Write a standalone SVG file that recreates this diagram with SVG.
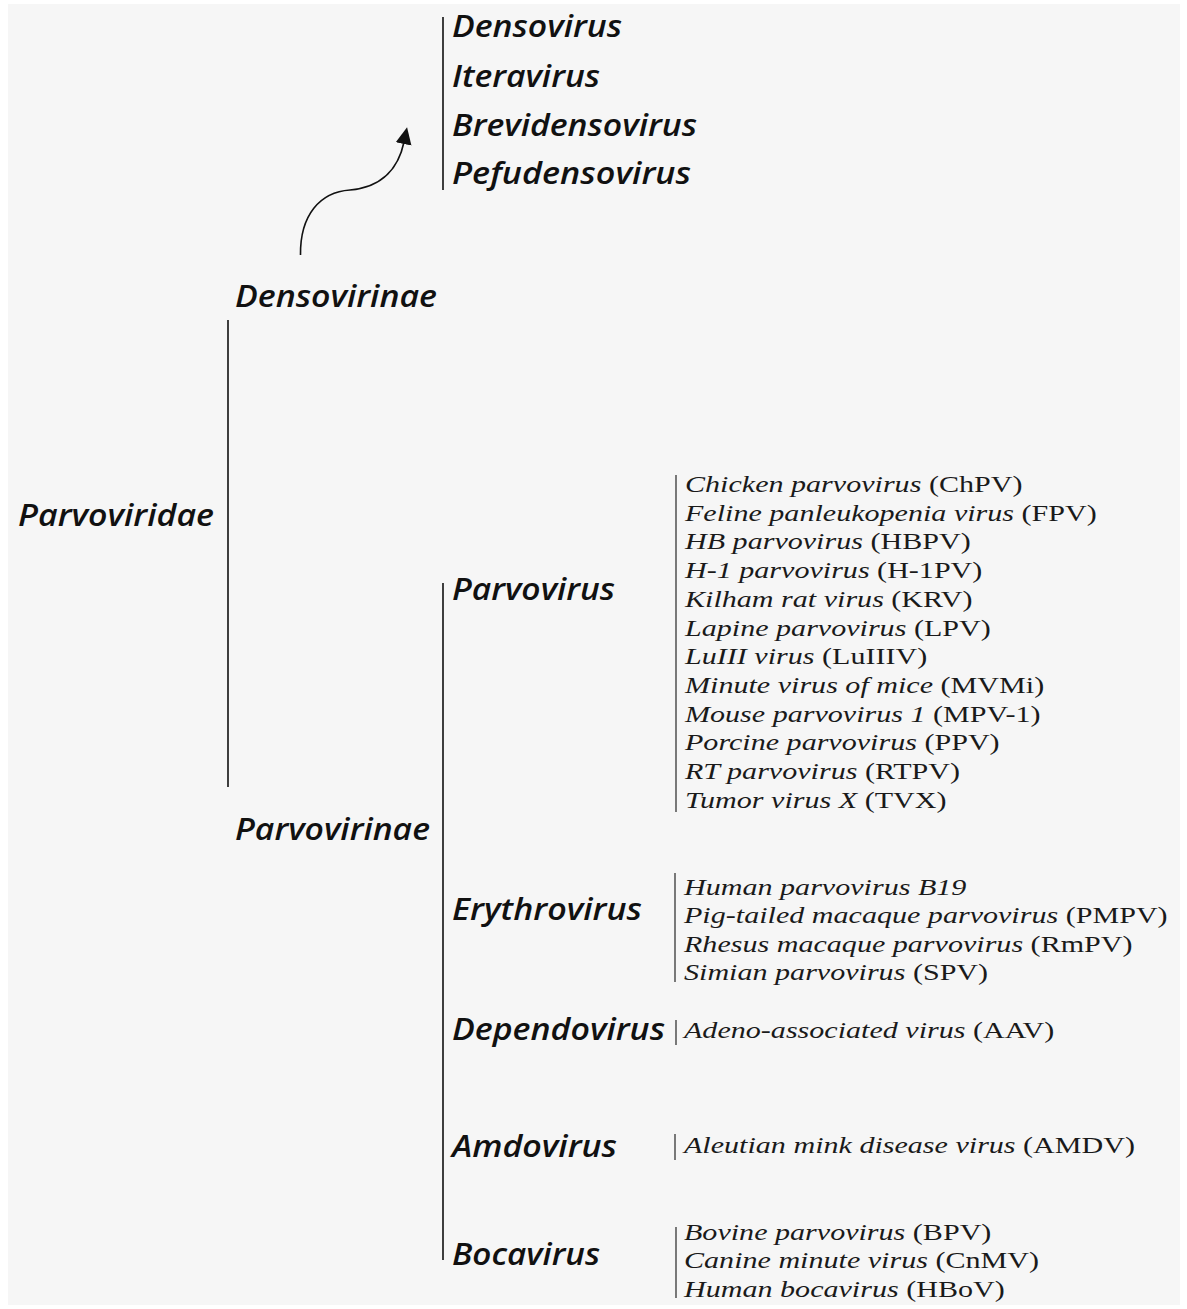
<svg xmlns="http://www.w3.org/2000/svg" width="1187" height="1309" viewBox="0 0 1187 1309">
  <style>
    .lbl { font-family: "Open Sans", "Noto Sans", "DejaVu Sans", sans-serif; font-style: italic; font-weight: 600; font-size: 31px; fill: #111; }
    .sp { font-family: "Liberation Serif", "Times New Roman", serif; font-size: 23.5px; fill: #1a1a1a; }
    .it { font-style: italic; }
    .ln { stroke: #111; stroke-width: 1.6; fill: none; }
    .sl { stroke: #444; stroke-width: 1.4; fill: none; }
  </style>
  <defs>
    <marker id="arr" markerUnits="userSpaceOnUse" markerWidth="18" markerHeight="18" viewBox="0 0 18 18" refX="2" refY="9" orient="auto">
      <path d="M0,1 L17,9 L0,17 z" fill="#111"/>
    </marker>
  </defs>
  <rect x="0" y="0" width="1187" height="1309" fill="#ffffff"/>
  <rect x="8" y="4" width="1172" height="1301" fill="#f6f6f6"/>

  <g id="connectors">
    <line class="ln" x1="443" y1="17" x2="443" y2="190"/>
    <path class="ln" d="M300.5,255 C300,215 320,192 350,190 C384,187 399,166 404,142" marker-end="url(#arr)"/>
    <line class="ln" x1="228" y1="320" x2="228" y2="787"/>
    <line class="ln" x1="443" y1="583" x2="443" y2="1260"/>
    <line class="sl" x1="676" y1="475" x2="676" y2="812"/>
    <line class="sl" x1="675" y1="873" x2="675" y2="982"/>
    <line class="sl" x1="676" y1="1020" x2="676" y2="1045"/>
    <line class="sl" x1="675" y1="1134" x2="675" y2="1160"/>
    <line class="sl" x1="676" y1="1227" x2="676" y2="1298"/>
  </g>

  <g id="densovirus-genera">
    <text class="lbl" x="452" y="37" textLength="170" lengthAdjust="spacingAndGlyphs">Densovirus</text>
    <text class="lbl" x="452" y="87" textLength="148" lengthAdjust="spacingAndGlyphs">Iteravirus</text>
    <text class="lbl" x="452" y="136" textLength="245" lengthAdjust="spacingAndGlyphs">Brevidensovirus</text>
    <text class="lbl" x="452" y="184" textLength="239" lengthAdjust="spacingAndGlyphs">Pefudensovirus</text>
  </g>

  <g id="densovirinae">
    <text class="lbl" x="235" y="307" textLength="202" lengthAdjust="spacingAndGlyphs">Densovirinae</text>
  </g>
  <g id="parvoviridae">
    <text class="lbl" x="18" y="526" textLength="196" lengthAdjust="spacingAndGlyphs">Parvoviridae</text>
  </g>
  <g id="parvovirinae">
    <text class="lbl" x="235" y="840" textLength="195" lengthAdjust="spacingAndGlyphs">Parvovirinae</text>
  </g>

  <g id="parvovirus">
    <text class="lbl" x="452" y="600" textLength="163" lengthAdjust="spacingAndGlyphs">Parvovirus</text>
  </g>
  <g id="erythrovirus">
    <text class="lbl" x="452" y="920" textLength="190" lengthAdjust="spacingAndGlyphs">Erythrovirus</text>
  </g>
  <g id="dependovirus">
    <text class="lbl" x="452" y="1040" textLength="213" lengthAdjust="spacingAndGlyphs">Dependovirus</text>
  </g>
  <g id="amdovirus">
    <text class="lbl" x="452" y="1157" textLength="165" lengthAdjust="spacingAndGlyphs">Amdovirus</text>
  </g>
  <g id="bocavirus">
    <text class="lbl" x="452" y="1265" textLength="148" lengthAdjust="spacingAndGlyphs">Bocavirus</text>
  </g>

  <g id="parvovirus-species" transform="translate(685 0) scale(1.28 1)">
    <text class="sp" x="0" y="492"><tspan class="it">Chicken parvovirus</tspan> (ChPV)</text>
    <text class="sp" x="0" y="521"><tspan class="it">Feline panleukopenia virus</tspan> (FPV)</text>
    <text class="sp" x="0" y="549"><tspan class="it">HB parvovirus</tspan> (HBPV)</text>
    <text class="sp" x="0" y="578"><tspan class="it">H-1 parvovirus</tspan> (H-1PV)</text>
    <text class="sp" x="0" y="607"><tspan class="it">Kilham rat virus</tspan> (KRV)</text>
    <text class="sp" x="0" y="636"><tspan class="it">Lapine parvovirus</tspan> (LPV)</text>
    <text class="sp" x="0" y="664"><tspan class="it">LuIII virus</tspan> (LuIIIV)</text>
    <text class="sp" x="0" y="693"><tspan class="it">Minute virus of mice</tspan> (MVMi)</text>
    <text class="sp" x="0" y="722"><tspan class="it">Mouse parvovirus 1</tspan> (MPV-1)</text>
    <text class="sp" x="0" y="750"><tspan class="it">Porcine parvovirus</tspan> (PPV)</text>
    <text class="sp" x="0" y="779"><tspan class="it">RT parvovirus</tspan> (RTPV)</text>
    <text class="sp" x="0" y="808"><tspan class="it">Tumor virus X</tspan> (TVX)</text>
  </g>

  <g id="erythrovirus-species" transform="translate(684 0) scale(1.28 1)">
    <text class="sp" x="0" y="895"><tspan class="it">Human parvovirus B19</tspan></text>
    <text class="sp" x="0" y="923"><tspan class="it">Pig-tailed macaque parvovirus</tspan> (PMPV)</text>
    <text class="sp" x="0" y="952"><tspan class="it">Rhesus macaque parvovirus</tspan> (RmPV)</text>
    <text class="sp" x="0" y="980"><tspan class="it">Simian parvovirus</tspan> (SPV)</text>
  </g>

  <g id="dependovirus-species" transform="translate(684 0) scale(1.28 1)">
    <text class="sp" x="0" y="1038"><tspan class="it">Adeno-associated virus</tspan> (AAV)</text>
  </g>

  <g id="amdovirus-species" transform="translate(684 0) scale(1.28 1)">
    <text class="sp" x="0" y="1153"><tspan class="it">Aleutian mink disease virus</tspan> (AMDV)</text>
  </g>

  <g id="bocavirus-species" transform="translate(684 0) scale(1.28 1)">
    <text class="sp" x="0" y="1240"><tspan class="it">Bovine parvovirus</tspan> (BPV)</text>
    <text class="sp" x="0" y="1268"><tspan class="it">Canine minute virus</tspan> (CnMV)</text>
    <text class="sp" x="0" y="1297"><tspan class="it">Human bocavirus</tspan> (HBoV)</text>
  </g>
</svg>
